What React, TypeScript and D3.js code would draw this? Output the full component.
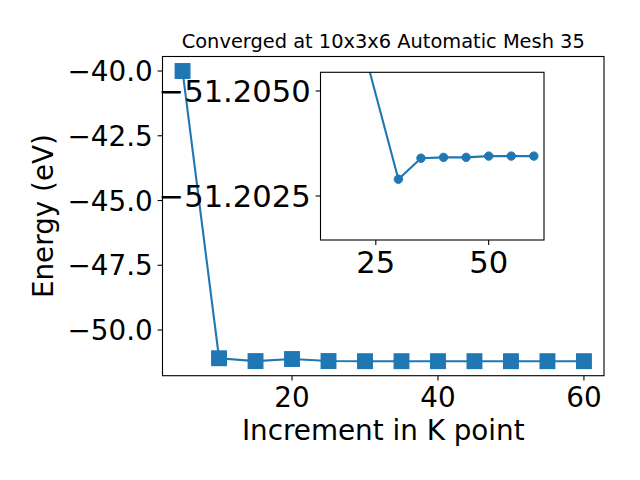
import React from "react";
import * as d3 from "d3";

const kPoints = [5, 10, 15, 20, 25, 30, 35, 40, 45, 50, 55, 60];
const energies = [-40.0, -51.09, -51.2, -51.12, -51.198, -51.2029, -51.2034, -51.20342, -51.20342, -51.20345, -51.20345, -51.20345];

const insetK = [15, 20, 30, 35, 40, 45, 50, 55, 60];
const insetE = [-51.21, -51.20693, -51.2029, -51.2034, -51.20342, -51.20342, -51.20345, -51.20345, -51.20345];
const insetYLim = [-51.201452, -51.205445]; // bottom, top (inverted axis)

const mainXTicks = [20, 40, 60];
const mainYTicks = [-40.0, -42.5, -45.0, -47.5, -50.0];
const insetXTicks = [25, 50];
const insetYTicks = [-51.205, -51.2025];

const title = "Converged at 10x3x6 Automatic Mesh 35";
const xLabel = "Increment in K point";
const yLabel = "Energy (eV)";

const COLOR = "#1f77b4";
const FONT = "DejaVu Sans, sans-serif";

function pad(ext: [number, number], f = 0.05): [number, number] {
  const d = ext[1] - ext[0];
  return [ext[0] - d * f, ext[1] + d * f];
}
const minus = (s: string) => s.replace("-", "\u2212");

export default function App() {
  const W = 640, H = 480;
  const L = 162.5, R = 604, T = 56.5, B = 375.7;
  const x = d3.scaleLinear().domain(pad(d3.extent(kPoints) as [number, number])).range([L, R]);
  const y = d3.scaleLinear().domain(pad(d3.extent(energies) as [number, number])).range([B, T]);
  const line = d3.line<number>().x((_, i) => x(kPoints[i])).y((d) => y(d));

  const iL = 320.5, iR = 544, iT = 72.3, iB = 240;
  const ix = d3.scaleLinear().domain(pad(d3.extent(insetK) as [number, number])).range([iL, iR]);
  const iy = d3.scaleLinear().domain(insetYLim).range([iB, iT]);
  const iline = d3.line<number>().x((_, i) => ix(insetK[i])).y((d) => iy(d));

  const tickFs = 27.8;
  const insetFs = 30.6;
  const tl = 4.9;
  const sq = 14.5;

  return (
    <svg width={W} height={H} style={{ display: "block", position: "absolute", left: 0, top: 0 }} fontFamily={FONT}>
      <rect x={0} y={0} width={W} height={H} fill="white" />
      <defs>
        <clipPath id="insetClip"><rect x={iL} y={iT} width={iR - iL} height={iB - iT} /></clipPath>
      </defs>
      {/* main plot */}
      <g>
        <path d={line(energies) || ""} fill="none" stroke={COLOR} strokeWidth={2.1} />
        {energies.map((e, i) => (
          <rect key={i} x={x(kPoints[i]) - sq / 2} y={y(e) - sq / 2} width={sq} height={sq} fill={COLOR} stroke={COLOR} strokeWidth={1.4} />
        ))}
      </g>
      <rect x={L} y={T} width={R - L} height={B - T} fill="none" stroke="black" strokeWidth={1.1} />
      {mainXTicks.map((t) => (
        <g key={t}>
          <line x1={x(t)} x2={x(t)} y1={B} y2={B + tl} stroke="black" strokeWidth={1.1} />
          <text x={x(t)} y={B + 31.5} textAnchor="middle" fontSize={tickFs}>{t}</text>
        </g>
      ))}
      {mainYTicks.map((t) => (
        <g key={t}>
          <line x1={L - tl} x2={L} y1={y(t)} y2={y(t)} stroke="black" strokeWidth={1.1} />
          <text x={L - tl - 4.9} y={y(t) + tickFs * 0.364} textAnchor="end" fontSize={tickFs}>{minus(t.toFixed(1))}</text>
        </g>
      ))}
      <text x={(L + R) / 2} y={440} textAnchor="middle" fontSize={tickFs}>{xLabel}</text>
      <text transform={`translate(53,${(T + B) / 2}) rotate(-90)`} textAnchor="middle" fontSize={tickFs}>{yLabel}</text>
      <text x={(L + R) / 2} y={47.7} textAnchor="middle" fontSize={19.4}>{title}</text>

      {/* inset */}
      <rect x={iL} y={iT} width={iR - iL} height={iB - iT} fill="white" />
      <g clipPath="url(#insetClip)">
        <path d={iline(insetE) || ""} fill="none" stroke={COLOR} strokeWidth={2.1} />
        {insetE.map((e, i) => (
          <circle key={i} cx={ix(insetK[i])} cy={iy(e)} r={4.2} fill={COLOR} stroke={COLOR} strokeWidth={1} />
        ))}
      </g>
      <rect x={iL} y={iT} width={iR - iL} height={iB - iT} fill="none" stroke="black" strokeWidth={1.1} />
      {insetXTicks.map((t) => (
        <g key={t}>
          <line x1={ix(t)} x2={ix(t)} y1={iB} y2={iB + tl} stroke="black" strokeWidth={1.1} />
          <text x={ix(t)} y={iB + 33.3} textAnchor="middle" fontSize={insetFs}>{t}</text>
        </g>
      ))}
      {insetYTicks.map((t) => (
        <g key={t}>
          <line x1={iL - tl} x2={iL} y1={iy(t)} y2={iy(t)} stroke="black" strokeWidth={1.1} />
          <text x={iL - tl - 4.9} y={iy(t) + insetFs * 0.364} textAnchor="end" fontSize={insetFs}>{minus(t.toFixed(4))}</text>
        </g>
      ))}
    </svg>
  );
}
